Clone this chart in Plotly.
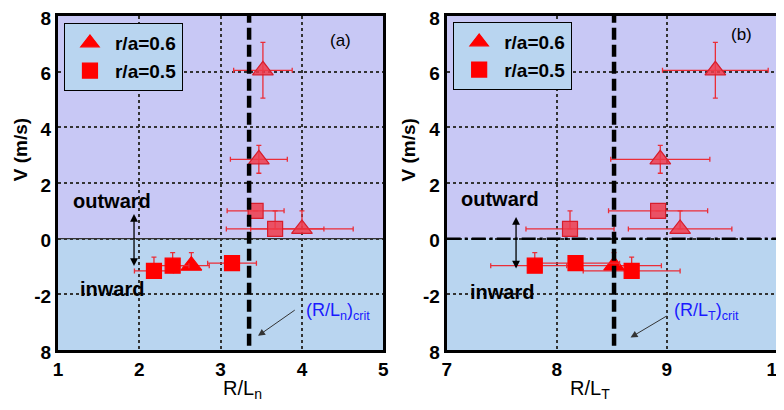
import plotly.graph_objects as go

# ---------------- data ----------------
v_tri = [-0.97, 6.05, 2.85, 0.35]
v_tri_up = [0.47, 1.0, 0.5, 0.65]
v_tri_dn = [0.0, 1.0, 0.5, 0.0]
rln_tri = [2.64, 3.52, 3.47, 4.00]
rln_tri_err = [0.22, 0.36, 0.35, 0.63]
rlt_tri = [8.52, 9.44, 8.94, 9.12]
rlt_tri_err = [0.43, 0.48, 0.45, 0.47]

v_sq = [-0.88, 1.00, 0.35, -0.97, -1.16]
v_sq_up = [0.0, 0.0, 0.65, 0.47, 0.50]
v_sq_dn = [0.0, 0.0, 0.0, 0.0, 0.0]
rln_sq = [3.14, 3.43, 3.67, 2.41, 2.18]
rln_sq_err = [0.30, 0.35, 0.60, 0.20, 0.24]
rlt_sq = [8.17, 8.92, 8.12, 7.80, 8.68]
rlt_sq_err = [0.40, 0.45, 0.40, 0.40, 0.44]

rln_crit = 3.35
rlt_crit = 8.52

y_tickvals = [-4, -2, 0, 2, 4, 6, 8]
y_ticktext = ["8", "-2", "0", "2", "4", "6", "8"]
x1_ticks = [1, 2, 3, 4, 5]
x2_ticks = [7, 8, 9, 10]
labels = ["r/a=0.6", "r/a=0.5"]

# ---------------- style ----------------
FONT = "Liberation Sans, Arial, sans-serif"
UP_COL = "#c8c8f5"
DN_COL = "#b9d5f0"
ERR_COL = "rgb(235,45,55)"


def mcolors(vals):
    return ["rgba(240,60,75,0.85)" if v > 0 else "rgb(255,0,0)" for v in vals]


def mlines(vals):
    return ["rgb(215,30,45)" if v > 0 else "rgb(255,0,0)" for v in vals]


fig = go.Figure()

panels = [
    dict(xa="x", ya="y", xt=rln_tri, xte=rln_tri_err, xs=rln_sq, xse=rln_sq_err, leg="legend"),
    dict(xa="x2", ya="y2", xt=rlt_tri, xte=rlt_tri_err, xs=rlt_sq, xse=rlt_sq_err, leg="legend2"),
]

for p in panels:
    fig.add_trace(go.Scatter(
        x=p["xt"], y=v_tri, mode="markers", name=labels[0],
        xaxis=p["xa"], yaxis=p["ya"], legend=p["leg"],
        marker=dict(symbol="triangle-up", size=18, color=mcolors(v_tri),
                    line=dict(color=mlines(v_tri), width=1.2)),
        error_x=dict(type="data", array=p["xte"], color=ERR_COL, thickness=1.3, width=2.5),
        error_y=dict(type="data", symmetric=False, array=v_tri_up, arrayminus=v_tri_dn,
                     color=ERR_COL, thickness=1.3, width=2.5),
    ))
    fig.add_trace(go.Scatter(
        x=p["xs"], y=v_sq, mode="markers", name=labels[1],
        xaxis=p["xa"], yaxis=p["ya"], legend=p["leg"],
        marker=dict(symbol="square", size=15, color=mcolors(v_sq),
                    line=dict(color=mlines(v_sq), width=1.2)),
        error_x=dict(type="data", array=p["xse"], color=ERR_COL, thickness=1.3, width=2.5),
        error_y=dict(type="data", symmetric=False, array=v_sq_up, arrayminus=v_sq_dn,
                     color=ERR_COL, thickness=1.3, width=2.5),
    ))

shapes = []
for xa, ya, x0, x1 in [("x", "y", 1, 5), ("x2", "y2", 7, 10)]:
    shapes.append(dict(type="rect", xref=xa, yref=ya, x0=x0, x1=x1, y0=0, y1=8,
                       fillcolor=UP_COL, line=dict(width=0), layer="below"))
    shapes.append(dict(type="rect", xref=xa, yref=ya, x0=x0, x1=x1, y0=-4, y1=0,
                       fillcolor=DN_COL, line=dict(width=0), layer="below"))
# zero lines
shapes.append(dict(type="line", xref="x", yref="y", x0=1, x1=5, y0=0, y1=0,
                   line=dict(color="#333", width=1.2)))
shapes.append(dict(type="line", xref="x2", yref="y2", x0=7, x1=10, y0=0, y1=0,
                   line=dict(color="black", width=2.5, dash="14px,4px,3px,4px")))
# critical lines
shapes.append(dict(type="line", xref="x", yref="y", x0=rln_crit, x1=rln_crit, y0=-3.85, y1=8,
                   line=dict(color="black", width=4.5, dash="12px,5px")))
shapes.append(dict(type="line", xref="x2", yref="y2", x0=rlt_crit, x1=rlt_crit, y0=-3.85, y1=8,
                   line=dict(color="black", width=4.5, dash="12px,5px")))

ann = []
bold = dict(family=FONT, size=20, color="black", weight="bold")
for xa, ya, xo, yo, xi, yi, xarr, y_top, y_bot in [
    ("x", "y", 1.66, 1.35, 1.66, -1.82, 1.935, 0.94, -0.98),
    ("x2", "y2", 7.48, 1.41, 7.50, -1.92, 7.63, 0.83, -1.07),
]:
    ann.append(dict(xref=xa, yref=ya, x=xo, y=yo, text="outward", showarrow=False, font=bold))
    ann.append(dict(xref=xa, yref=ya, x=xi, y=yi, text="inward", showarrow=False, font=bold))
    ann.append(dict(xref=xa, yref=ya, x=xarr, y=y_bot, ax=xarr, ay=y_top, axref=xa, ayref=ya,
                    text="", showarrow=True, arrowhead=2, startarrowhead=2, arrowside="end+start",
                    arrowwidth=1.3, arrowsize=1.2, arrowcolor="black"))

ann.append(dict(xref="x", yref="y", x=4.48, y=7.12, text="(a)", showarrow=False,
                font=dict(family=FONT, size=17, color="black")))
ann.append(dict(xref="x2", yref="y2", x=9.68, y=7.32, text="(b)", showarrow=False,
                font=dict(family=FONT, size=17, color="black")))

blue = dict(family=FONT, size=18, color="#1a1aff")
ann.append(dict(xref="x", yref="y", x=4.02, y=-2.6, xanchor="left",
                text="(R/L<sub>n</sub>)<sub>crit</sub>", showarrow=False, font=blue))
ann.append(dict(xref="x2", yref="y2", x=9.05, y=-2.6, xanchor="left",
                text="(R/L<sub>T</sub>)<sub>crit</sub>", showarrow=False, font=blue))
ann.append(dict(xref="x", yref="y", x=3.46, y=-3.49, ax=3.93, ay=-2.53, axref="x", ayref="y",
                text="", showarrow=True, arrowhead=2, arrowwidth=1, arrowsize=1.4,
                arrowcolor="#333"))
ann.append(dict(xref="x2", yref="y2", x=8.67, y=-3.55, ax=9.01, ay=-2.75, axref="x2", ayref="y2",
                text="", showarrow=True, arrowhead=2, arrowwidth=1, arrowsize=1.4,
                arrowcolor="#333"))

# axis titles
ytitle = dict(family=FONT, size=19, color="black", weight="bold")
xtitle = dict(family=FONT, size=20, color="black")
ann.append(dict(xref="paper", yref="paper", x=-0.052, y=0.6, text="V (m/s)", textangle=-90,
                showarrow=False, font=ytitle, xanchor="center"))
ann.append(dict(xref="paper", yref="paper", x=0.488, y=0.6, text="V (m/s)", textangle=-90,
                showarrow=False, font=ytitle, xanchor="center"))
ann.append(dict(xref="paper", yref="paper", x=0.2262, y=-0.074, yanchor="top",
                text="R/L<sub>n</sub>", showarrow=False, font=xtitle))
ann.append(dict(xref="paper", yref="paper", x=0.7703, y=-0.074, yanchor="top",
                text="R/L<sub>T</sub>", showarrow=False, font=xtitle))

tickfont = dict(family=FONT, size=19, color="black", weight="bold")
axis_common = dict(showline=True, linewidth=3, linecolor="black", mirror=True,
                   showgrid=True, gridcolor="#333", griddash="dot", gridwidth=1.5,
                   zeroline=False, ticks="", tickfont=tickfont, automargin=False,
                   ticklabeloverflow="allow")

legfont = dict(family=FONT, size=19, color="black", weight="bold")
fig.update_layout(
    width=776, height=402,
    margin=dict(l=50, r=7, t=8, b=60),
    paper_bgcolor="white", plot_bgcolor=DN_COL,
    showlegend=True,
    xaxis=dict(domain=[0, 0.4524], range=[1, 5], tickvals=x1_ticks, anchor="y", **axis_common),
    yaxis=dict(domain=[0, 1], range=[-4, 8], tickvals=y_tickvals, ticktext=y_ticktext,
               anchor="x", ticklabelshift=2, **axis_common),
    xaxis2=dict(domain=[0.5406, 1.0], range=[7, 10], tickvals=x2_ticks, anchor="y2", **axis_common),
    yaxis2=dict(domain=[0, 1], range=[-4, 8], tickvals=y_tickvals, ticktext=y_ticktext,
                anchor="x2", ticklabelshift=2, **axis_common),
    legend=dict(x=0.0083, y=0.979, xanchor="left", yanchor="top", bgcolor=DN_COL,
                bordercolor="black", borderwidth=1, font=legfont, itemwidth=40, tracegroupgap=0),
    legend2=dict(x=0.5496, y=0.982, xanchor="left", yanchor="top", bgcolor=DN_COL,
                 bordercolor="black", borderwidth=1, font=legfont, itemwidth=40, tracegroupgap=0),
    shapes=shapes, annotations=ann,
)

fig.write_html("out.html")
